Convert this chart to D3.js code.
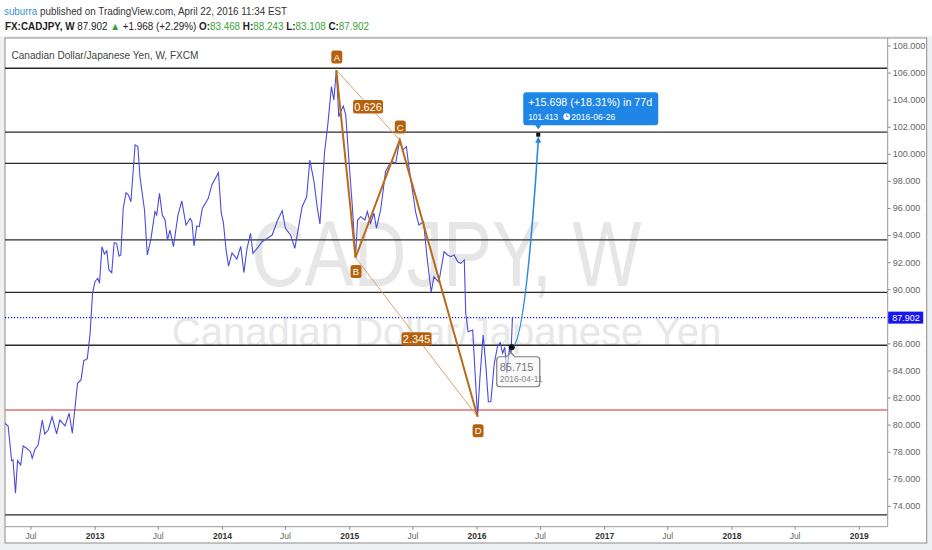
<!DOCTYPE html>
<html>
<head>
<meta charset="utf-8">
<script src="https://cdn.jsdelivr.net/npm/d3@7"></script>
<style>
  body { margin: 0; background: #fff; }
  svg { display: block; font-family: "Liberation Sans", Arial, sans-serif; }
</style>
</head>
<body>
<div id="chart"></div>
<script>
// weekly CADJPY closes
const priceDates = [
  "2012-04-19","2012-04-28","2012-05-08","2012-05-12","2012-05-19","2012-05-25","2012-06-03","2012-06-10","2012-06-20","2012-07-01",
  "2012-07-06","2012-07-14","2012-07-23","2012-08-04","2012-08-11","2012-08-21","2012-09-01","2012-09-14","2012-09-23","2012-10-08",
  "2012-10-20","2012-10-29","2012-11-06","2012-11-13","2012-11-23","2012-12-01","2012-12-11","2012-12-19","2012-12-26","2013-01-02",
  "2013-01-10","2013-01-15","2013-01-22","2013-01-29","2013-02-05","2013-02-11","2013-02-19","2013-02-26","2013-03-05","2013-03-12",
  "2013-03-17","2013-03-24","2013-04-01","2013-04-08","2013-04-15","2013-04-27","2013-05-05","2013-05-11","2013-05-24","2013-06-01",
  "2013-06-11","2013-06-23","2013-06-28","2013-07-06","2013-07-14","2013-07-22","2013-07-29","2013-08-05","2013-08-15","2013-08-28",
  "2013-09-08","2013-09-20","2013-10-02","2013-10-07","2013-10-13","2013-10-21","2013-10-28","2013-11-06","2013-11-23","2013-12-03",
  "2013-12-22","2013-12-30","2014-01-05","2014-01-13","2014-01-20","2014-01-30","2014-02-13","2014-02-24","2014-03-05","2014-03-14",
  "2014-03-24","2014-03-31","2014-04-12","2014-04-26","2014-05-11","2014-05-25","2014-06-10","2014-06-23","2014-07-02","2014-07-17",
  "2014-07-29","2014-08-09","2014-08-19","2014-09-01","2014-09-10","2014-09-22","2014-10-01","2014-10-09","2014-10-22","2014-11-01",
  "2014-11-11","2014-11-18","2014-11-25","2014-12-02","2014-12-07","2014-12-15","2014-12-22","2014-12-31","2015-01-10","2015-01-19",
  "2015-01-25","2015-02-03","2015-02-15","2015-02-22","2015-03-03","2015-03-13","2015-03-20","2015-04-01","2015-04-06","2015-04-15",
  "2015-04-25","2015-05-05","2015-05-14","2015-05-26","2015-06-04","2015-06-14","2015-06-21","2015-07-01","2015-07-11","2015-07-20",
  "2015-08-02","2015-08-12","2015-08-24","2015-09-01","2015-09-15","2015-09-30","2015-10-10","2015-10-19","2015-10-29","2015-11-08",
  "2015-11-17","2015-11-27","2015-12-01","2015-12-08","2015-12-21","2016-01-04","2016-01-11","2016-01-20","2016-01-28","2016-02-04",
  "2016-02-11","2016-02-21","2016-03-01","2016-03-09","2016-03-16","2016-03-22","2016-03-28","2016-04-04","2016-04-09","2016-04-13"
];
const priceValues = [
  80.10, 79.90, 77.34, 77.39, 74.93, 77.34, 77.02, 78.42, 78.25, 78.00,
  77.51, 78.18, 78.49, 80.34, 79.31, 79.60, 80.58, 79.31, 80.34, 79.90,
  80.84, 79.36, 81.32, 83.05, 83.30, 84.72, 84.87, 86.74, 89.70, 90.56,
  90.81, 90.44, 93.14, 92.60, 92.84, 91.42, 91.22, 93.44, 93.39, 92.45,
  92.53, 95.98, 97.13, 96.96, 96.46, 100.65, 100.53, 98.31, 95.85, 92.53,
  93.64, 95.73, 95.48, 97.08, 95.48, 95.11, 93.64, 94.37, 93.14, 95.48,
  96.52, 94.74, 95.24, 94.99, 93.19, 94.67, 94.62, 95.98, 96.71, 97.70,
  98.61, 95.63, 94.96, 92.90, 91.71, 92.68, 92.23, 93.16, 91.23, 93.02,
  94.13, 92.65, 93.02, 93.51, 93.76, 94.00, 95.11, 95.80, 94.50, 94.00,
  93.02, 94.62, 96.09, 96.83, 99.54, 97.94, 96.09, 94.82, 100.04, 102.25,
  104.96, 103.97, 106.19, 102.74, 103.11, 103.53, 102.87, 99.54, 96.09, 92.34,
  95.11, 95.36, 95.11, 95.73, 94.87, 95.61, 94.50, 95.85, 96.83, 98.68,
  99.17, 99.42, 99.30, 101.02, 100.28, 100.53, 99.05, 97.33, 95.61, 94.74,
  94.99, 92.40, 89.79, 90.92, 90.53, 92.77, 92.53, 92.40, 92.53, 92.03,
  91.91, 92.16, 88.22, 86.86, 86.99, 80.58, 83.54, 86.62, 84.28, 81.69,
  81.69, 84.53, 85.75, 86.05, 85.27, 85.71, 83.79, 85.56, 85.27, 87.902
];

const lastPrice = 87.902;
const levelValues = [106.32, 101.6, 99.3, 93.65, 89.77, 85.86, 73.33];
const redLevel = 81.07;

const patternLabels = ["A", "B", "C", "D"];
const patternDates = ["2014-11-25", "2015-01-19", "2015-05-26", "2016-01-04"];
const patternValues = [106.19, 92.34, 101.02, 80.58];
const ratioLabels = ["0.626", "2.345"];

const projDates = ["2016-04-11", "2016-06-26"];
const projValues = [85.715, 101.413];
const projText = "+15.698 (+18.31%) in 77d";

const yTickValues = [74, 76, 78, 80, 82, 84, 86, 88, 90, 92, 94, 96, 98, 100, 102, 104, 106, 108];
const xTickDates = ["2012-07-01","2013-01-01","2013-07-01","2014-01-01","2014-07-01","2015-01-01","2015-07-01",
                    "2016-01-01","2016-07-01","2017-01-01","2017-07-01","2018-01-01","2018-07-01","2019-01-01"];
const xTickLabels = ["Jul","2013","Jul","2014","Jul","2015","Jul","2016","Jul","2017","Jul","2018","Jul","2019"];

const parse = d3.timeParse("%Y-%m-%d");
const width = 932, height = 550;
const plot = {left: 5, top: 38, right: 887.7, bottom: 526.7};
const green = "#3a9f3a";
const brown = "#b5620e";

const svg = d3.select("#chart").append("svg")
    .attr("width", width)
    .attr("height", height);

// page + frame
svg.append("rect").attr("x", 0).attr("y", 36).attr("width", width).attr("height", height - 36).attr("fill", "#eef0f2");
svg.append("rect").attr("x", plot.left).attr("y", plot.top).attr("width", 921.7).attr("height", 505)
    .attr("fill", "#fff").attr("stroke", "#8c8c8c");

// header
const h1 = svg.append("text").attr("x", 4).attr("y", 14.5).attr("font-size", 10.5)
    .attr("textLength", 283).attr("lengthAdjust", "spacingAndGlyphs");
h1.append("tspan").attr("fill", "#3a8fd6").text("suburra");
h1.append("tspan").attr("fill", "#333").text(" published on TradingView.com, April 22, 2016 11:34 EST");

const h2 = svg.append("text").attr("x", 5).attr("y", 29.5).attr("font-size", 10.5).attr("fill", "#222")
    .attr("textLength", 364).attr("lengthAdjust", "spacingAndGlyphs");
const h2parts = [
  ["FX:CADJPY, W", "#222", "bold"], [" 87.902 ", "#222", "normal"], ["\u25B2", green, "normal"],
  [" +1.968 (+2.29%) ", "#222", "normal"], ["O:", "#222", "bold"], ["83.468", green, "normal"],
  [" H:", "#222", "bold"], ["88.243", green, "normal"], [" L:", "#222", "bold"], ["83.108", green, "normal"],
  [" C:", "#222", "bold"], ["87.902", green, "normal"]
];
h2parts.forEach(p => h2.append("tspan").attr("fill", p[1]).attr("font-weight", p[2]).text(p[0]));

svg.append("text").attr("x", 11.5).attr("y", 58.5).attr("font-size", 10.5).attr("fill", "#444")
    .attr("textLength", 187).attr("lengthAdjust", "spacingAndGlyphs")
    .text("Canadian Dollar/Japanese Yen, W, FXCM");

// scales
const x = d3.scaleTime()
    .domain([parse("2012-04-19"), parse("2019-03-25")])
    .range([plot.left, plot.right]);
const y = d3.scaleLinear()
    .domain([72.46, 108.554])
    .range([plot.bottom, plot.top]);

svg.append("clipPath").attr("id", "clip")
  .append("rect").attr("x", plot.left).attr("y", plot.top)
    .attr("width", plot.right - plot.left).attr("height", plot.bottom - plot.top);

const g = svg.append("g").attr("clip-path", "url(#clip)");

// watermark
g.append("text").attr("x", 446.5).attr("y", 286).attr("text-anchor", "middle")
    .attr("font-size", 92).attr("fill", "#e6e6e6")
    .attr("textLength", 390).attr("lengthAdjust", "spacingAndGlyphs")
    .text("CADJPY, W");
g.append("text").attr("x", 446.5).attr("y", 346).attr("text-anchor", "middle")
    .attr("font-size", 40).attr("fill", "#e8e8e8")
    .text("Canadian Dollar/Japanese Yen");

// horizontal levels
g.selectAll(".level").data(levelValues).enter().append("line")
    .attr("x1", plot.left).attr("x2", plot.right)
    .attr("y1", d => y(d)).attr("y2", d => y(d))
    .attr("stroke", "#2b2b2b").attr("stroke-width", 1.3);
g.append("line")
    .attr("x1", plot.left).attr("x2", plot.right)
    .attr("y1", y(redLevel)).attr("y2", y(redLevel))
    .attr("stroke", "#e27070").attr("stroke-width", 1.5);
g.append("line")
    .attr("x1", plot.left).attr("x2", plot.right)
    .attr("y1", y(lastPrice)).attr("y2", y(lastPrice))
    .attr("stroke", "#1a1aff").attr("stroke-width", 1.2).attr("stroke-dasharray", "1.2,1.8");

// price line
const series = priceDates.map((d, i) => ({date: parse(d), value: priceValues[i]}));
g.append("path")
    .datum(series)
    .attr("fill", "none")
    .attr("stroke", "#4b4bdc")
    .attr("stroke-width", 1.1)
    .attr("d", d3.line().x(d => x(d.date)).y(d => y(d.value)));

// XABCD pattern
const pts = patternDates.map((d, i) => [x(parse(d)), y(patternValues[i])]);
[[0, 2], [1, 3]].forEach(pair => {
  g.append("line")
      .attr("x1", pts[pair[0]][0]).attr("y1", pts[pair[0]][1])
      .attr("x2", pts[pair[1]][0]).attr("y2", pts[pair[1]][1])
      .attr("stroke", "#d8a466").attr("stroke-width", 1);
});
g.append("path")
    .attr("d", d3.line()(pts))
    .attr("fill", "none")
    .attr("stroke", "#b96a1a")
    .attr("stroke-width", 2);

[[0, 2], [1, 3]].forEach((pair, i) => {
  const cx = (pts[pair[0]][0] + pts[pair[1]][0]) / 2;
  const cy = (pts[pair[0]][1] + pts[pair[1]][1]) / 2 + 2;
  g.append("rect").attr("x", cx - 15).attr("y", cy - 7).attr("width", 30).attr("height", 13.5)
      .attr("rx", 2.5).attr("fill", brown);
  g.append("text").attr("x", cx).attr("y", cy + 4).attr("text-anchor", "middle")
      .attr("font-size", 11).attr("fill", "#fff").text(ratioLabels[i]);
});

patternLabels.forEach((lab, i) => {
  const up = (i % 2 === 0);
  const cx = pts[i][0] + 0.5;
  const cy = pts[i][1] + (up ? -13 : 14);
  g.append("rect").attr("x", cx - 5.5).attr("y", cy - 6.5).attr("width", 11).attr("height", 13)
      .attr("rx", 2.5).attr("fill", brown);
  g.append("text").attr("x", cx).attr("y", cy + 3.5).attr("text-anchor", "middle")
      .attr("font-size", 9.5).attr("fill", "#fff").text(lab);
});

// projection arrow
const p0 = [x(parse(projDates[0])), y(projValues[0])];
const p1 = [x(parse(projDates[1])), y(projValues[1])];
const ctrl = [p0[0] + (p1[0] - p0[0]) / 2, p0[1]];
g.append("path")
    .attr("d", `M${p0[0]},${p0[1]} Q${ctrl[0]},${ctrl[1]} ${p1[0]},${p1[1] + 6}`)
    .attr("fill", "none").attr("stroke", "#2b88e0").attr("stroke-width", 1.6);
g.append("path")
    .attr("d", `M${p1[0]},${p1[1] + 1.5} L${p1[0] - 3},${p1[1] + 8} L${p1[0] + 3},${p1[1] + 8} Z`)
    .attr("fill", "#2b88e0");
g.append("rect").attr("x", p1[0] - 2).attr("y", p1[1] - 2).attr("width", 4).attr("height", 4).attr("fill", "#111");
g.append("circle").attr("cx", p0[0]).attr("cy", p0[1]).attr("r", 3).attr("fill", "#111");

// start tooltip
const sb = g.append("g").attr("transform", `translate(${p0[0]},${p0[1]})`);
sb.append("path")
    .attr("d", "M-12,9.5 H-5 L-1,5 L3,9.5 H25 Q28,9.5 28,12.5 V36.5 Q28,39.5 25,39.5 H-12 Q-15,39.5 -15,36.5 V12.5 Q-15,9.5 -12,9.5 Z")
    .attr("fill", "rgba(245,245,245,0.55)").attr("stroke", "#7c7c7c").attr("stroke-width", 1.2);
sb.append("text").attr("x", -12).attr("y", 23.5).attr("font-size", 11).attr("fill", "#777").text(projValues[0].toFixed(3));
sb.append("text").attr("x", -12).attr("y", 35).attr("font-size", 8.5).attr("fill", "#888").text(projDates[0]);

// end tooltip
const eb = g.append("g").attr("transform", `translate(${p1[0]},${p1[1]})`);
eb.append("path")
    .attr("d", "M-12,-42.5 H117 Q120,-42.5 120,-39.5 V-12.5 Q120,-9.5 117,-9.5 H3 L0,-5.5 L-3,-9.5 H-12 Q-15,-9.5 -15,-12.5 V-39.5 Q-15,-42.5 -12,-42.5 Z")
    .attr("fill", "#1f86e6");
eb.append("text").attr("x", -10).attr("y", -28.5).attr("font-size", 11.5).attr("fill", "#fff")
    .attr("textLength", 124).attr("lengthAdjust", "spacingAndGlyphs").text(projText);
eb.append("text").attr("x", -10).attr("y", -15).attr("font-size", 9).attr("fill", "#fff")
    .attr("textLength", 30).attr("lengthAdjust", "spacingAndGlyphs").text(projValues[1].toFixed(3));
eb.append("circle").attr("cx", 28.5).attr("cy", -18).attr("r", 3.4).attr("fill", "#fff");
eb.append("path").attr("d", "M28.5,-20.3 V-18 H30.3").attr("fill", "none").attr("stroke", "#1f86e6").attr("stroke-width", 0.9);
eb.append("text").attr("x", 33).attr("y", -15).attr("font-size", 9).attr("fill", "#fff")
    .attr("textLength", 44).attr("lengthAdjust", "spacingAndGlyphs").text(projDates[1]);

// axes
svg.append("line").attr("x1", plot.right).attr("x2", plot.right).attr("y1", plot.top).attr("y2", plot.bottom)
    .attr("stroke", "#999");
svg.append("line").attr("x1", plot.left).attr("x2", plot.right).attr("y1", plot.bottom).attr("y2", plot.bottom)
    .attr("stroke", "#999");

const yAxis = svg.append("g")
    .attr("transform", `translate(${plot.right},0)`)
    .call(d3.axisRight(y).tickValues(yTickValues).tickSize(3).tickPadding(2).tickFormat(d3.format(".3f")));
yAxis.select(".domain").remove();
yAxis.selectAll(".tick line").attr("stroke", "#888");
yAxis.selectAll(".tick text").attr("fill", "#666").attr("font-size", 9).attr("font-family", "Liberation Sans, Arial, sans-serif");

const xAxis = svg.append("g")
    .attr("transform", `translate(0,${plot.bottom})`)
    .call(d3.axisBottom(x).tickValues(xTickDates.map(parse)).tickSize(3).tickPadding(3)
      .tickFormat((d, i) => xTickLabels[i]));
xAxis.select(".domain").remove();
xAxis.selectAll(".tick line").attr("stroke", "#888");
xAxis.selectAll(".tick text")
    .attr("font-size", 8.5)
    .attr("font-family", "Liberation Sans, Arial, sans-serif")
    .attr("fill", (d, i) => xTickLabels[i] === "Jul" ? "#666" : "#333")
    .attr("font-weight", (d, i) => xTickLabels[i] === "Jul" ? "normal" : "bold");

// last price label on the scale
svg.append("rect").attr("x", plot.right + 0.5).attr("y", y(lastPrice) - 6).attr("width", 35).attr("height", 12)
    .attr("fill", "#1616ee");
svg.append("text").attr("x", plot.right + 4.5).attr("y", y(lastPrice) + 3.2)
    .attr("font-size", 9).attr("fill", "#fff").text(lastPrice.toFixed(3));
</script>
</body>
</html>
